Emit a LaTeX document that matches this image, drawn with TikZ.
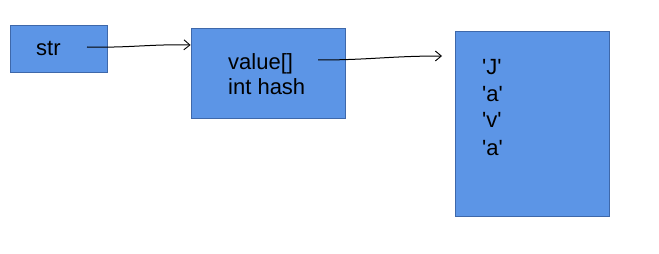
\documentclass[tikz,border=0pt]{standalone}
\usepackage{fontspec}
\setmainfont{Liberation Sans}
\usetikzlibrary{arrows.meta}
\definecolor{boxfill}{RGB}{92,149,230}
\definecolor{boxline}{RGB}{62,104,170}
% straight apostrophe glyph, bypassing the TeX quote mapping
\newcommand{\sq}{\XeTeXglyph\XeTeXcharglyph"0027\relax}
\tikzset{
  cell/.style={draw=boxline, line width=0.8pt, fill=boxfill, inner sep=0pt},
  lbl/.style={font=\fontsize{22}{25}\selectfont, anchor=base west, inner sep=0pt},
  ref/.style={line width=1pt, -{Straight Barb[length=6pt, width=10pt, line width=0.9pt]}},
}
\begin{document}
\begin{tikzpicture}[x=1pt, y=-1pt]
  \useasboundingbox (0,0) rectangle (659,254);
  % boxes: string reference, String object, char array
  \node[cell, minimum width=97pt, minimum height=47pt] (s) at (58.5,48.5) {};
  \node[cell, minimum width=154pt, minimum height=90pt] (obj) at (268,73) {};
  \node[cell, minimum width=154pt, minimum height=185pt] (arr) at (532,123.5) {};
  % labels
  \node[lbl] (slbl) at (36,56) {str};
  \node[lbl] (v1) at (228,70) {value[]};
  \node[lbl] (v2) at (228,95) {int hash};
  \node[lbl] (c1) at (482,75) {\sq J\sq};
  \node[lbl] (c2) at (482,102) {\sq a\sq};
  \node[lbl] (c3) at (482,128) {\sq v\sq};
  \node[lbl] (c4) at (482,155) {\sq a\sq};
  % pointer ends
  \coordinate (p1) at (87,47);
  \coordinate (p2) at (318,60);
  \coordinate (q2) at (442,56);
  \draw[ref] (p1) .. controls (130,48) and (150,44) .. (obj.west |- 0,45);
  \draw[ref] (p2) .. controls (370,60) and (390,56) .. (q2);
\end{tikzpicture}
\end{document}
